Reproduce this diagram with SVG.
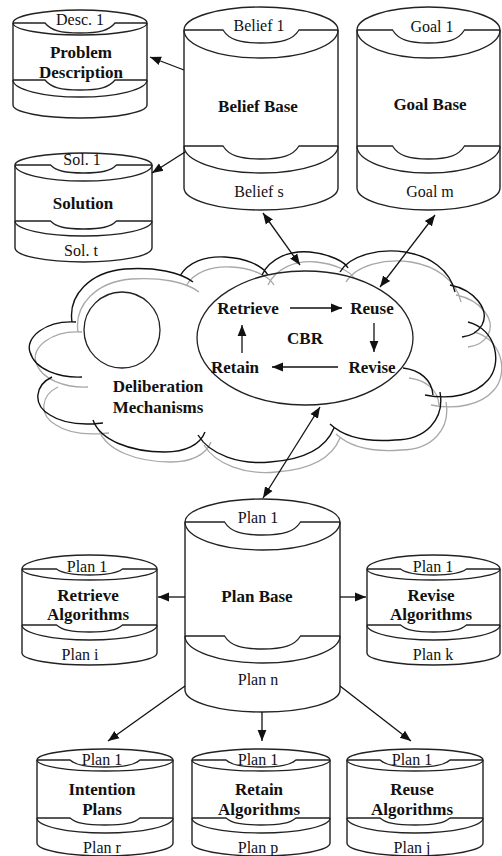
<svg xmlns="http://www.w3.org/2000/svg" width="502" height="856" viewBox="0 0 502 856">
<defs>
<style>
.cb{fill:#fff;stroke:#222;stroke-width:1.4}
.cl{fill:none;stroke:#222;stroke-width:1.3}
.cloud{fill:none;stroke:#111;stroke-width:1.4}
.shadow{fill:none;stroke:#a8a8a8;stroke-width:1.3}
.con{fill:none;stroke:#111;stroke-width:1.3}
text{font-family:"Liberation Serif","Times New Roman",serif;font-size:16px;text-anchor:middle;fill:#111}
.b{font-weight:bold;font-size:17px}
</style>
<marker id="ah" viewBox="0 0 10 10" refX="10" refY="5" markerWidth="11" markerHeight="11" markerUnits="userSpaceOnUse" orient="auto-start-reverse">
<path d="M0,1 L10,5 L0,9 Z" fill="#111"/>
</marker>
<path id="cloudpath" d="M76,322 C45,320 25,338 30,352 C35,370 60,378 82,377
M52,377 C35,385 32,405 50,415 C65,425 85,425 103,423
M93,420 C100,440 130,452 165,452 C185,452 200,445 205,432
M198,435 C210,455 240,465 270,462 C300,460 325,450 334,428
M440,392 C445,420 425,440 395,440 C370,442 345,438 330,424
M468,322 C498,330 502,365 488,380 C475,395 450,400 425,395
M403,368 C420,370 432,380 433,395
M450,285 C475,290 490,310 482,325 C478,332 470,336 462,337
M340,272 C350,255 380,248 405,252 C430,256 450,270 455,292
M262,275 C270,258 290,250 310,252 C330,254 345,262 348,268
M180,276 C188,262 205,256 225,257 C245,258 262,265 268,275
M72,322 C68,295 90,272 125,269 C155,267 180,272 193,282"/>
</defs>
<rect width="502" height="856" fill="#fff"/>

<g id="cloud">
<use href="#cloudpath" class="shadow" transform="translate(6,10)"/>
<use href="#cloudpath" class="cloud"/>
</g>

<g id="deliberation">
<circle cx="122" cy="330" r="38" class="cl"/>
<text class="b" x="158" y="392">Deliberation</text>
<text class="b" x="158" y="413">Mechanisms</text>
</g>

<g id="cbr">
<ellipse cx="305" cy="338" rx="108" ry="67" class="cl"/>
<text class="b" x="305" y="344">CBR</text>
</g>
<g id="retrieve"><text class="b" x="248" y="314">Retrieve</text></g>
<g id="reuse"><text class="b" x="372" y="314">Reuse</text></g>
<g id="revise"><text class="b" x="372" y="373">Revise</text></g>
<g id="retain"><text class="b" x="235" y="373">Retain</text></g>

<g id="problem-description">
<path class="cb" d="M13,23 A67,13 0 0 1 147,23 V105 A67,13 0 0 1 13,105 Z"/>
<path class="cl" d="M13,23 A67,12 0 0 0 147,23 M13,23 H45 C51,30.5 60.75,33 80,33 C99.25,33 109,30.5 115,23 H147 M13,80 H45 C51,87.5 60.75,90 80,90 C99.25,90 109,87.5 115,80 H147 M13,80 A67,17 0 0 0 147,80"/>
<text x="80" y="25">Desc. 1</text>
<text class="b" x="81" y="58">Problem</text>
<text class="b" x="81" y="78">Description</text>
</g>

<g id="solution">
<path class="cb" d="M15,165 A68.5,12 0 0 1 152,165 V248 A68.5,14 0 0 1 15,248 Z"/>
<path class="cl" d="M15,165 A68.5,16 0 0 0 152,165 M15,165 H50.5 C56.5,171 65.35,173 83.5,173 C101.65,173 110.5,171 116.5,165 H152 M15,221 H50.5 C56.5,227 65.35,229 83.5,229 C101.65,229 110.5,227 116.5,221 H152 M15,221 A68.5,15 0 0 0 152,221"/>
<text x="82" y="165">Sol. 1</text>
<text class="b" x="83" y="209">Solution</text>
<text x="81" y="256">Sol. t</text>
</g>

<g id="belief-base">
<path class="cb" d="M184,30 A77,23 0 0 1 338,30 V188 A77,22 0 0 1 184,188 Z"/>
<path class="cl" d="M184,30 A77,28 0 0 0 338,30 M184,30 H223 C229,39.75 240.1,43 261,43 C281.9,43 293,39.75 299,30 H338 M184,146 H223 C229,155.75 240.1,159 261,159 C281.9,159 293,155.75 299,146 H338 M184,146 A77,27 0 0 0 338,146"/>
<text x="259" y="31">Belief 1</text>
<text class="b" x="258" y="112">Belief Base</text>
<text x="259" y="197">Belief s</text>
</g>

<g id="goal-base">
<path class="cb" d="M357,30 A71.5,23 0 0 1 500,30 V188 A71.5,22 0 0 1 357,188 Z"/>
<path class="cl" d="M357,30 A71.5,28 0 0 0 500,30 M357,30 H392.5 C398.5,39.75 408.7,43 428.5,43 C448.3,43 458.5,39.75 464.5,30 H500 M357,146 H392.5 C398.5,155.75 408.7,159 428.5,159 C448.3,159 458.5,155.75 464.5,146 H500 M357,146 A71.5,27 0 0 0 500,146"/>
<text x="432" y="32">Goal 1</text>
<text class="b" x="430" y="110">Goal Base</text>
<text x="430" y="197">Goal m</text>
</g>

<g id="plan-base">
<path class="cb" d="M185,522 A77.5,23 0 0 1 340,522 V690 A77.5,22 0 0 1 185,690 Z"/>
<path class="cl" d="M185,522 A77.5,28 0 0 0 340,522 M185,522 H224.5 C230.5,531.75 241.6,535 262.5,535 C283.4,535 294.5,531.75 300.5,522 H340 M185,636 H224.5 C230.5,645.75 241.6,649 262.5,649 C283.4,649 294.5,645.75 300.5,636 H340 M185,636 A77.5,27 0 0 0 340,636"/>
<text x="258" y="523">Plan 1</text>
<text class="b" x="257" y="602">Plan Base</text>
<text x="258" y="685">Plan n</text>
</g>

<g id="retrieve-algorithms">
<path class="cb" d="M22,569 A67.5,14 0 0 1 157,569 V653 A67.5,12 0 0 1 22,653 Z"/>
<path class="cl" d="M22,569 A67.5,11 0 0 0 157,569 M22,569 H56.5 C62.5,573.5 71.35,575 89.5,575 C107.65,575 116.5,573.5 122.5,569 H157 M22,625 H56.5 C62.5,630.25 71.35,632 89.5,632 C107.65,632 116.5,630.25 122.5,625 H157 M22,625 A67.5,15 0 0 0 157,625"/>
<text x="87" y="572">Plan 1</text>
<text class="b" x="88" y="601">Retrieve</text>
<text class="b" x="88" y="620">Algorithms</text>
<text x="80" y="660">Plan i</text>
</g>

<g id="revise-algorithms">
<path class="cb" d="M367,569 A66.5,14 0 0 1 500,569 V653 A66.5,12 0 0 1 367,653 Z"/>
<path class="cl" d="M367,569 A66.5,11 0 0 0 500,569 M367,569 H400.5 C406.5,573.5 415.35,575 433.5,575 C451.65,575 460.5,573.5 466.5,569 H500 M367,625 H400.5 C406.5,630.25 415.35,632 433.5,632 C451.65,632 460.5,630.25 466.5,625 H500 M367,625 A66.5,15 0 0 0 500,625"/>
<text x="433" y="572">Plan 1</text>
<text class="b" x="431" y="601">Revise</text>
<text class="b" x="431" y="620">Algorithms</text>
<text x="433" y="660">Plan k</text>
</g>

<g id="intention-plans">
<path class="cb" d="M37,760 A68,11 0 0 1 173,760 V843 A68,13 0 0 1 37,843 Z"/>
<path class="cl" d="M37,760 A68,11 0 0 0 173,760 M37,760 H70 C76,765.25 85.75,767 105,767 C124.25,767 134,765.25 140,760 H173 M37,818 H70 C76,823.25 85.75,825 105,825 C124.25,825 134,823.25 140,818 H173 M37,818 A68,15 0 0 0 173,818"/>
<text x="102" y="765">Plan 1</text>
<text class="b" x="102" y="795">Intention</text>
<text class="b" x="102" y="815">Plans</text>
<text x="102" y="853">Plan r</text>
</g>

<g id="retain-algorithms">
<path class="cb" d="M192,760 A69,11 0 0 1 330,760 V843 A69,13 0 0 1 192,843 Z"/>
<path class="cl" d="M192,760 A69,11 0 0 0 330,760 M192,760 H226 C232,765.25 241.75,767 261,767 C280.25,767 290,765.25 296,760 H330 M192,818 H226 C232,823.25 241.75,825 261,825 C280.25,825 290,823.25 296,818 H330 M192,818 A69,15 0 0 0 330,818"/>
<text x="258" y="765">Plan 1</text>
<text class="b" x="259" y="795">Retain</text>
<text class="b" x="259" y="815">Algorithms</text>
<text x="258" y="853">Plan p</text>
</g>

<g id="reuse-algorithms">
<path class="cb" d="M347,760 A68,11 0 0 1 483,760 V843 A68,13 0 0 1 347,843 Z"/>
<path class="cl" d="M347,760 A68,11 0 0 0 483,760 M347,760 H380 C386,765.25 395.75,767 415,767 C434.25,767 444,765.25 450,760 H483 M347,818 H380 C386,823.25 395.75,825 415,825 C434.25,825 444,823.25 450,818 H483 M347,818 A68,15 0 0 0 483,818"/>
<text x="412" y="765">Plan 1</text>
<text class="b" x="412" y="795">Reuse</text>
<text class="b" x="412" y="815">Algorithms</text>
<text x="412" y="853">Plan j</text>
</g>

<g id="connectors">
<line class="con" x1="184" y1="70" x2="150" y2="57" marker-end="url(#ah)"/>
<line class="con" x1="185" y1="152" x2="152" y2="173" marker-end="url(#ah)"/>
<line class="con" x1="263" y1="213" x2="300" y2="265" marker-start="url(#ah)" marker-end="url(#ah)"/>
<line class="con" x1="435" y1="215" x2="380" y2="287" marker-start="url(#ah)" marker-end="url(#ah)"/>
<line class="con" x1="320" y1="407" x2="263" y2="498" marker-start="url(#ah)" marker-end="url(#ah)"/>
<line class="con" x1="290" y1="308" x2="342" y2="308" marker-end="url(#ah)"/>
<line class="con" x1="374" y1="323" x2="374" y2="352" marker-end="url(#ah)"/>
<line class="con" x1="338" y1="367" x2="272" y2="367" marker-end="url(#ah)"/>
<line class="con" x1="242" y1="353" x2="242" y2="325" marker-end="url(#ah)"/>
<line class="con" x1="185" y1="597" x2="158" y2="597" marker-end="url(#ah)"/>
<line class="con" x1="340" y1="597" x2="366" y2="597" marker-end="url(#ah)"/>
<line class="con" x1="185" y1="686" x2="108" y2="741" marker-end="url(#ah)"/>
<line class="con" x1="262" y1="712" x2="262" y2="741" marker-end="url(#ah)"/>
<line class="con" x1="340" y1="686" x2="411" y2="741" marker-end="url(#ah)"/>
</g>
</svg>
